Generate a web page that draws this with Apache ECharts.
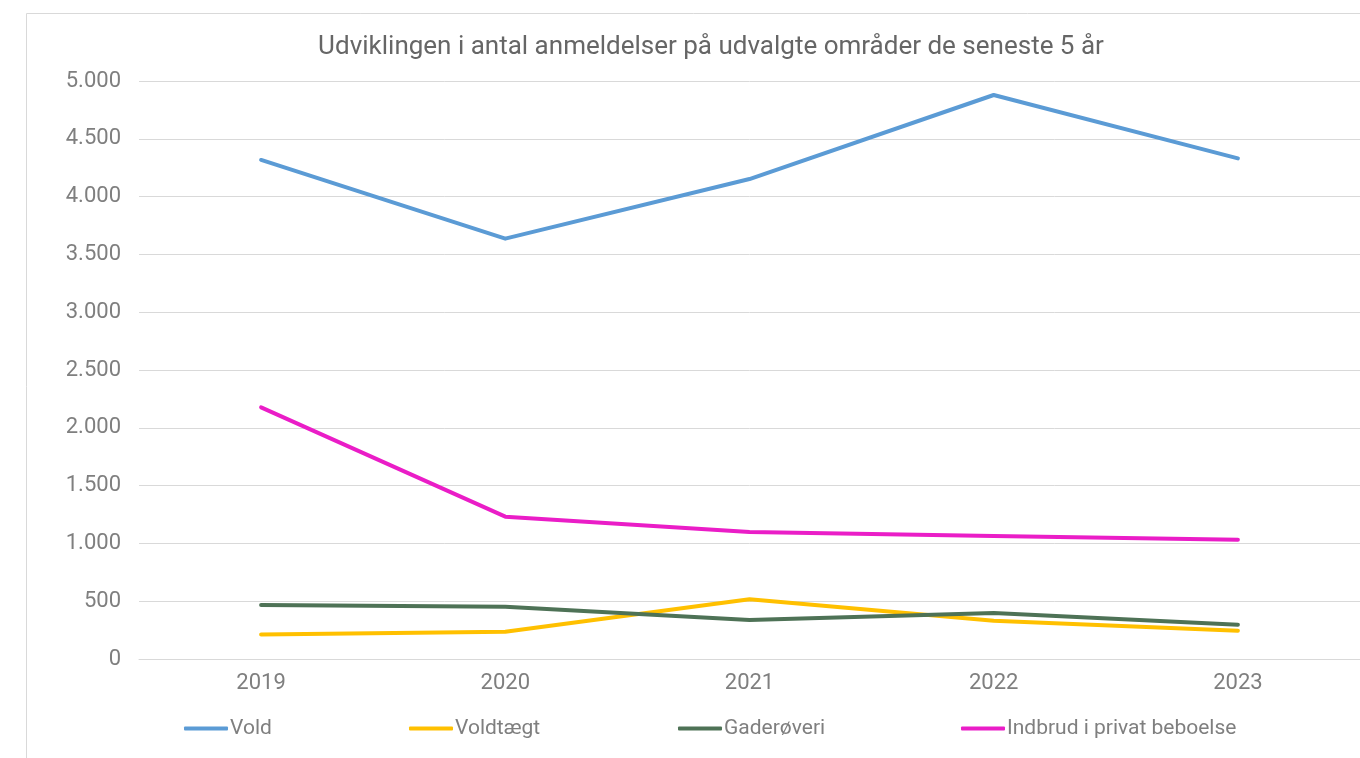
<!DOCTYPE html>
<html>
<head>
<meta charset="utf-8">
<script src="https://cdn.jsdelivr.net/npm/echarts@6/dist/echarts.min.js"></script>
<style>
html, body { margin: 0; padding: 0; background: #fff; }
#main { width: 1360px; height: 758px; }
</style>
</head>
<body>
<div id="main"></div>
<script>
var myChart = echarts.init(document.getElementById('main'));

var years = ['2019', '2020', '2021', '2022', '2023'];
var vold = [4317, 3636, 4152, 4879, 4331];
var voldtaegt = [213, 236, 516, 331, 245];
var gaderoeveri = [467, 452, 337, 398, 297];
var indbrud = [2177, 1231, 1098, 1064, 1032];

var names = ['Vold', 'Voldtægt', 'Gaderøveri', 'Indbrud i privat beboelse'];
var colors = ['#5b9bd5', '#ffc000', '#4e7256', '#ea1dc7'];
var legendLeft = [184, 409, 678, 961];

var fontFam = 'Roboto, "Liberation Sans", sans-serif';

function fmt(v) {
	return String(v).replace(/\B(?=(\d{3})+(?!\d))/g, '.');
}

var legends = [];
for (let i = 0; i < names.length; i++) {
	legends.push({
		data: [names[i]],
		left: legendLeft[i],
		top: 718,
		padding: 0,
		itemWidth: 44,
		itemHeight: 4,
		itemGap: 0,
		icon: 'roundRect',
		textStyle: { color: '#7f7f7f', fontSize: 21, fontFamily: fontFam, padding: [0, 0, 0, -3] }
	});
}

var allData = [vold, voldtaegt, gaderoeveri, indbrud];
var series = [];
for (let i = 0; i < names.length; i++) {
	series.push({
		name: names[i],
		type: 'line',
		data: allData[i],
		symbol: 'none',
		lineStyle: { width: 4, color: colors[i], cap: 'round', join: 'round' },
		itemStyle: { color: colors[i] }
	});
}

option = {
	animation: false,
	title: {
		text: 'Udviklingen i antal anmeldelser på udvalgte områder de seneste 5 år',
		left: 706,
		textAlign: 'center',
		top: 29,
		textStyle: { color: '#666666', fontSize: 26, fontWeight: 'normal', fontFamily: fontFam }
	},
	graphic: [{
		type: 'rect',
		shape: { x: 26.5, y: 13.5, width: 1400, height: 800 },
		style: { fill: 'none', stroke: '#d9d9d9', lineWidth: 1 },
		silent: true
	}],
	legend: legends,
	grid: { left: 139, right: 0, top: 81, bottom: 99, containLabel: false },
	xAxis: {
		type: 'category',
		data: years,
		boundaryGap: true,
		axisLine: { show: true, lineStyle: { color: '#d9d9d9' } },
		axisTick: { show: false },
		axisLabel: { color: '#7f7f7f', fontSize: 22, margin: 13, fontFamily: fontFam }
	},
	yAxis: {
		type: 'value',
		min: 0,
		max: 5000,
		interval: 500,
		axisLine: { show: false },
		axisTick: { show: false },
		splitLine: { lineStyle: { color: '#d9d9d9', width: 1 } },
		axisLabel: { color: '#7f7f7f', fontSize: 22, margin: 18, fontFamily: fontFam, formatter: fmt }
	},
	color: colors,
	series: series
};
myChart.setOption(option);
</script>
</body>
</html>
